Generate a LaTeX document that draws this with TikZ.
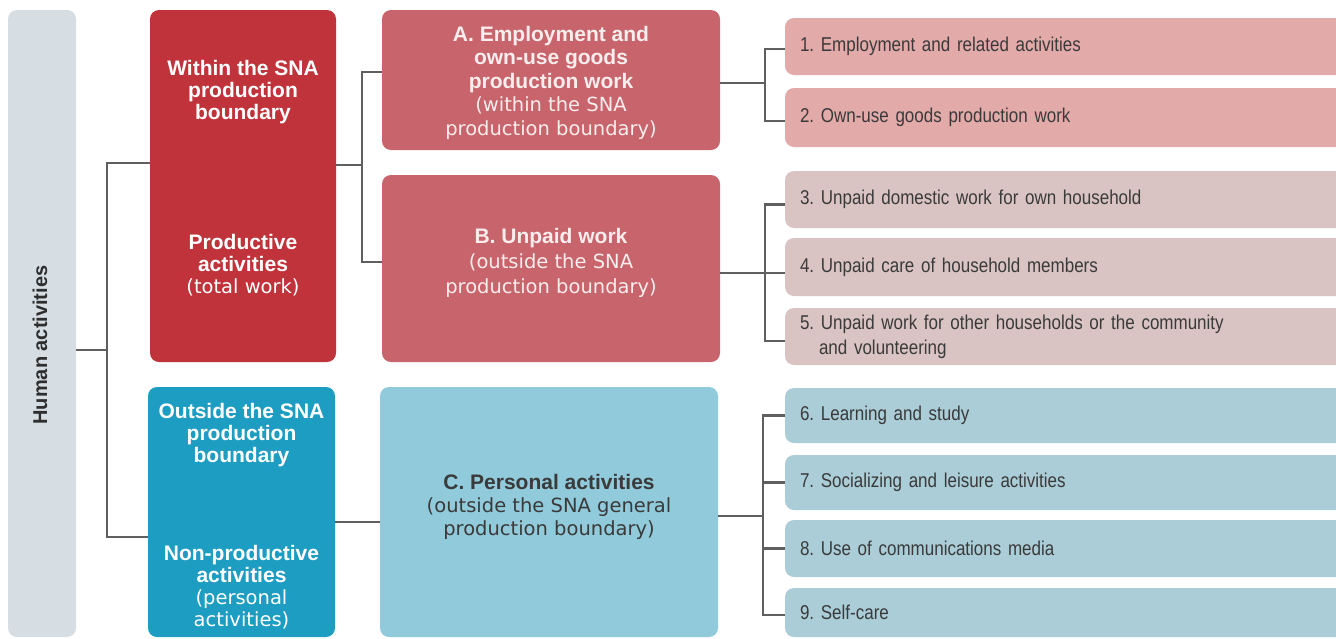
\documentclass[tikz,border=0pt]{standalone}
\usepackage{fontspec}
\setmainfont{Liberation Sans}
\newfontfamily\widefont{DejaVu Sans}
\newfontfamily\narrowfont{Liberation Sans}[FakeStretch=0.85]
\frenchspacing
\definecolor{humgray}{HTML}{D6DEE4}
\definecolor{humtext}{HTML}{2E2E2E}
\definecolor{sared}{HTML}{C0333A}
\definecolor{sapink}{HTML}{C8646B}
\definecolor{paletext}{HTML}{FAEDED}
\definecolor{pinkitem}{HTML}{E3AAAA}
\definecolor{grayitem}{HTML}{D9C4C3}
\definecolor{sablue}{HTML}{1E9DC2}
\definecolor{lightblue}{HTML}{90CADB}
\definecolor{blueitem}{HTML}{AACDD8}
\definecolor{itemtext}{HTML}{3A3A3A}
\definecolor{linegray}{HTML}{5F5F5F}
\newcommand{\paren}[1]{{\widefont\mdseries\fontsize{19.5}{22}\selectfont #1}}
\newcommand{\lift}[1]{\rule[-#1]{0pt}{#1}}
\newcommand{\sink}[1]{\rule{0pt}{#1}}
\tikzset{
	box/.style={rectangle, rounded corners=9pt, inner sep=0pt, align=center},
	group/.style={box, fill=#1, text=white,
		font=\fontsize{21}{22}\selectfont\bfseries},
	kind/.style={box, fill=#1, minimum width=338pt,
		font=\fontsize{21}{23.5}\selectfont\bfseries},
	item/.style={box, fill=#1, text=itemtext, text width=535pt,
		inner xsep=15pt, align=left,
		font=\narrowfont\fontsize{20}{25}\selectfont},
	link/.style={draw=linegray, line width=2.2pt},
}

\begin{document}
\begin{tikzpicture}[x=1pt, y=-1pt]
	\useasboundingbox (0,0) rectangle (1336,638);
	\node [box, fill=humgray, minimum width=68pt, minimum height=627pt]
	(hum) at (42,323.5) {};
	\node [rotate=90, text=humtext, font=\fontsize{20}{22}\selectfont\bfseries]
	(humlabel) at (40,345) {Human activities};

	\node [group=sared, minimum width=186pt, minimum height=352pt]
	(within) at (243,186)
	{ Within the SNA\\production\\boundary\\[108pt]
		Productive\\activities\\\paren{(total work)}\lift{19pt} };
	\node [group=sablue, minimum width=187pt, minimum height=250pt]
	(outside) at (241.5,512)
	{ \sink{24pt}Outside the SNA\\production\\boundary\\[76pt]
		Non-productive\\activities\\\paren{(personal}\\\paren{activities)} };

	\node [kind=sapink, text=paletext, minimum height=140pt]
	(employ) at (551,80)
	{ \sink{21pt}A. Employment and\\own-use goods\\production work\\
		\paren{(within the SNA}\\\paren{production boundary)} };
	\node [kind=sapink, text=paletext, minimum height=187pt,
		font=\fontsize{21}{25}\selectfont\bfseries]
	(unpaid) at (551,268.5)
	{ B. Unpaid work\\\paren{(outside the SNA}\\\paren{production boundary)}\lift{15pt} };
	\node [kind=lightblue, text=itemtext, minimum height=250pt,
		font=\fontsize{21}{23}\selectfont\bfseries]
	(personal) at (549,512)
	{ C. Personal activities\\\paren{(outside the SNA general}\\
		\paren{production boundary)}\lift{15pt} };

	\node [item=pinkitem, minimum height=57pt] (i1) at (1067.5,46.5)
	{1. Employment and related activities};
	\node [item=pinkitem, minimum height=59pt] (i2) at (1067.5,117.5)
	{2. Own-use goods production work};
	\node [item=grayitem, minimum height=57pt] (i3) at (1067.5,199.5)
	{3. Unpaid domestic work for own household};
	\node [item=grayitem, minimum height=58pt] (i4) at (1067.5,267)
	{4. Unpaid care of household members};
	\node [item=grayitem, minimum height=57pt] (i5) at (1067.5,336.5)
	{5. Unpaid work for other households or the community\\
		\hspace*{19pt}and volunteering};
	\node [item=blueitem, minimum height=55pt] (i6) at (1067.5,415.5)
	{6. Learning and study};
	\node [item=blueitem, minimum height=55pt] (i7) at (1067.5,482.5)
	{7. Socializing and leisure activities};
	\node [item=blueitem, minimum height=57pt] (i8) at (1067.5,548.5)
	{8. Use of communications media};
	\node [item=blueitem, minimum height=49pt] (i9) at (1067.5,612.5)
	{9. Self-care};

	\coordinate (jh) at (107,350);
	\coordinate (jw) at (362,165);
	\coordinate (ja) at (765,83);
	\coordinate (ju) at (765,273);
	\coordinate (jp) at (763,516);

	\draw [link] (hum.east |- jh) to (jh);
	\draw [link] ([yshift=23pt]within.west) -| (jh)
	|- ([yshift=-25pt]outside.west);
	\draw [link] (within.east |- jw) to (jw);
	\draw [link] ([yshift=8pt]employ.west) -| (jw)
	|- ([yshift=6.5pt]unpaid.west);
	\draw [link] ([yshift=-10pt]outside.east) to ([yshift=-10pt]personal.west);

	\draw [link] (employ.east |- ja) to (ja);
	\draw [link] ([yshift=-2.5pt]i1.west) -| (ja) |- ([yshift=-3.5pt]i2.west);
	\draw [link] (unpaid.east |- ju) to (ju);
	\draw [link] ([yshift=-5pt]i3.west) -| (ju) |- ([yshift=-4.5pt]i5.west);
	\draw [link] (ju) to (ju -| i4.west);
	\draw [link] (personal.east |- jp) to (jp);
	\draw [link] (i6.west) -| (jp) |- ([yshift=-2.5pt]i9.west);
	\draw [link] (jp) |- (i7.west);
	\draw [link] (jp) |- (i8.west);
\end{tikzpicture}
\end{document}
